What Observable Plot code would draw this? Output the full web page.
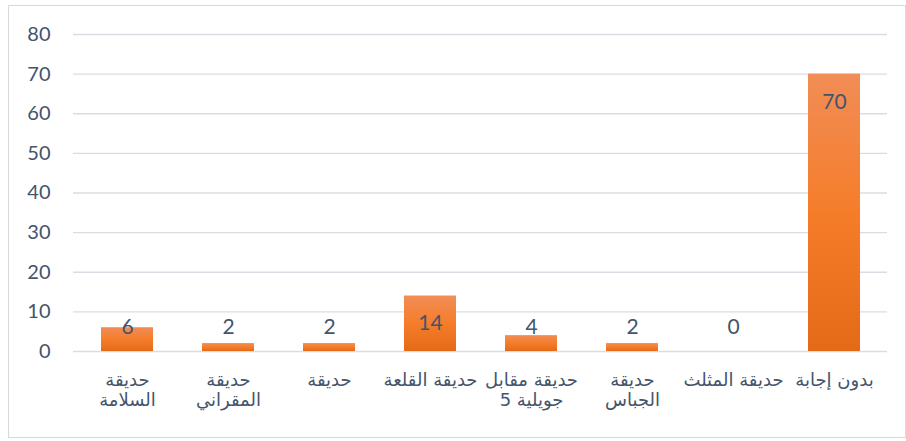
<!DOCTYPE html>
<html>
<head>
<meta charset="utf-8">
<script src="https://cdn.jsdelivr.net/npm/d3@7"></script>
<script src="https://cdn.jsdelivr.net/npm/@observablehq/plot@0.6"></script>
<style>
  html, body { margin: 0; padding: 0; background: #ffffff; }
  #wrap { position: relative; width: 906px; height: 441px; }
  #frame { position: absolute; left: 8px; top: 5px; width: 896px; height: 431px; border: 1px solid #d9d9d9; box-sizing: content-box; pointer-events: none; }
  #chart { position: absolute; left: 0; top: 0; }
  #chart svg { font-family: Lato, "DejaVu Sans", sans-serif; color: #44546a; }
</style>
</head>
<body>
<div id="wrap"><div id="chart"></div><div id="frame"></div></div>
<script>
const categories = ["حديقة السلامة", "حديقة المقراني", "حديقة", "حديقة القلعة", "حديقة مقابل 5 جويلية", "حديقة الجباس", "حديقة المثلث", "بدون إجابة"];
const values = [6, 2, 2, 14, 4, 2, 0, 70];
const tickLine1 = ["حديقة", "حديقة", "حديقة", "حديقة القلعة", "حديقة مقابل", "حديقة", "حديقة المثلث", "بدون إجابة"];
// second lines, in visual right-to-left order (drawn with an RTL override)
const tickLine2 = ["السلامة", "المقراني", "", "", "جويلية 5", "الجباس", "", ""];
const yTicks = [0, 10, 20, 30, 40, 50, 60, 70, 80];

const data = categories.map((name, i) => ({name, value: values[i], line1: tickLine1[i], line2: tickLine2[i]}));
const byName = new Map(data.map(d => [d.name, d]));

const xAxisStyle = {tickSize: 0, fontSize: 18, fontFamily: "'DejaVu Sans', sans-serif", label: null};

const plot = Plot.plot({
  width: 906,
  height: 441,
  marginLeft: 73,
  marginRight: 19,
  marginTop: 34,
  marginBottom: 90,
  x: {domain: categories, paddingInner: 0.49, paddingOuter: 0.245, label: null},
  y: {domain: [0, 80], label: null},
  marks: [
    Plot.gridY(yTicks, {stroke: "#d9dde3", strokeOpacity: 1, strokeWidth: 1.3}),
    Plot.axisY(yTicks, {tickSize: 0, tickPadding: 23, fontSize: 20, label: null}),
    Plot.axisX({...xAxisStyle, tickPadding: 22, tickFormat: d => byName.get(d).line1}),
    Plot.axisX({...xAxisStyle, tickPadding: 42, tickFormat: d => byName.get(d).line2}),
    Plot.barY(data, {x: "name", y: "value", fill: "url(#barGrad)"}),
    Plot.text(data, {x: "name", y: d => Math.max(d.value - 7, 6.05), text: d => String(d.value), fontSize: 21, fill: "#44546a"})
  ]
});

// Arabic category labels: force right-to-left layout so the digit sits on the left like the original
d3.select(plot).selectAll('g[aria-label="x-axis tick label"] text')
  .attr("direction", "rtl")
  .attr("unicode-bidi", "bidi-override")
  .style("direction", "rtl")
  .style("unicode-bidi", "bidi-override");

const defs = d3.select(plot).insert("defs", ":first-child");
const g = defs.append("linearGradient").attr("id", "barGrad").attr("x1", 0).attr("y1", 0).attr("x2", 0).attr("y2", 1);
g.append("stop").attr("offset", "0%").attr("stop-color", "#f18d56");
g.append("stop").attr("offset", "50%").attr("stop-color", "#f57d2a");
g.append("stop").attr("offset", "100%").attr("stop-color", "#e46a18");

document.getElementById("chart").appendChild(plot);
</script>
</body>
</html>
